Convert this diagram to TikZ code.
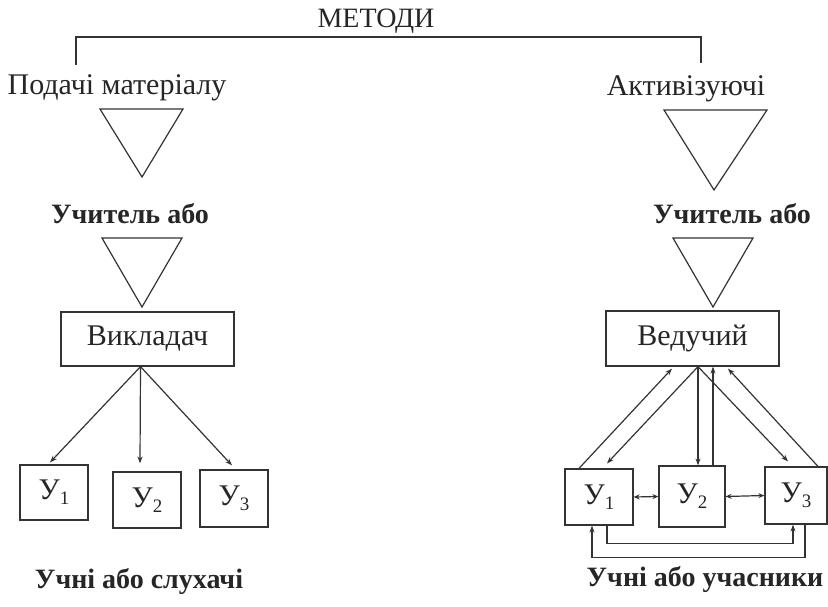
\documentclass[tikz,border=0pt]{standalone}
\usepackage{fontspec}
\setmainfont{Liberation Serif}
\usetikzlibrary{arrows.meta}
\newcommand\Us[1]{У\raisebox{-5pt}{\fontsize{19}{19}\selectfont#1}}

\begin{document}
\begin{tikzpicture}[x=1pt,y=-1pt,
    every node/.style = {font=\fontsize{30}{32}\selectfont, text=black!85},
    box/.style = {draw=black!80, line width=1.2pt, inner sep=0pt},
    line/.style = {draw=black!80, line width=1.2pt, line join=miter},
    arr/.style = {line, -{Stealth[length=7pt,width=5pt]}},
    darr/.style = {line, {Stealth[length=6pt,width=5pt]}-{Stealth[length=6pt,width=5pt]}},
    bold/.style = {font=\fontsize{28}{30}\selectfont\bfseries},
  ]
  \useasboundingbox (0,0) rectangle (828,606);
  \fill[white] (0,0) rectangle (828,606);

  \node[font=\fontsize{28}{30}\selectfont] (methods) at (376,21) {МЕТОДИ};
  \coordinate (brl) at (76,65);
  \coordinate (brr) at (701,63);
  \draw[line] (brl) -- (76,37) -- (701,37) -- (brr);

  \node (feed) at (117,88) {Подачі матеріалу};
  \node (act) at (686,89) {Активізуючі};

  % left column
  \draw[line] (100,109) -- (183,109) -- (142,177) -- cycle;
  \node[bold] (teacherL) at (130,214) {Учитель або};
  \draw[line] (102,238) -- (182,238) -- (142,307) -- cycle;
  \node[box, minimum width=173, minimum height=54] (lector) at (147.5,339) {Викладач};

  \node[box, minimum width=68, minimum height=55] (u1L) at (54,492.5) {\Us{1}};
  \node[box, minimum width=68, minimum height=56] (u2L) at (147,500) {\Us{2}};
  \node[box, minimum width=68, minimum height=57] (u3L) at (234,498.5) {\Us{3}};

  \draw[arr] ([xshift=-7]lector.south) -- ([xshift=-4,yshift=2]u1L.north);
  \draw[arr] ([xshift=-7]lector.south) -- ([xshift=-7,yshift=8]u2L.north);
  \draw[arr] ([xshift=-7]lector.south) -- ([xshift=-2,yshift=4]u3L.north);

  \node[bold] (listeners) at (139,581) {Учні або слухачі};

  % right column
  \draw[line] (664,110) -- (767,110) -- (714,190) -- cycle;
  \node[bold] (teacherR) at (732,214) {Учитель або};
  \draw[line] (673,238) -- (753,238) -- (713,307) -- cycle;
  \node[box, minimum width=173, minimum height=55] (host) at (692.5,338.5) {Ведучий};

  \node[box, minimum width=68, minimum height=56] (u1R) at (599,497) {\Us{1}};
  \node[box, minimum width=66, minimum height=61] (u2R) at (692,496.5) {\Us{2}};
  \node[box, minimum width=62, minimum height=57] (u3R) at (796,495.5) {\Us{3}};

  \draw[arr] ([xshift=-20]u1R.north) -- ([xshift=-20.5,yshift=-2]host.south);
  \draw[arr] ([xshift=5.5]host.south) -- ([xshift=8,yshift=5]u1R.north);
  \draw[arr] ([xshift=5.5]host.south) -- ([xshift=6]u2R.north);
  \draw[arr] ([xshift=21]u2R.north) -- ([xshift=20.5]host.south);
  \draw[arr] ([xshift=5.5]host.south) -- ([xshift=-8,yshift=5]u3R.north);
  \draw[arr] ([xshift=22]u3R.north) -- ([xshift=35.5,yshift=-2]host.south);

  \draw[darr] (u1R.east) -- (u2R.west);
  \draw[darr] (u2R.east) -- (u3R.west);

  \draw[arr] ([xshift=8]u1R.south) -- ++(0,18) -| ([xshift=-3]u3R.south);
  \draw[arr] ([xshift=9]u3R.south) -- ++(0,33) -| ([xshift=-7]u1R.south);

  \node[bold] (members) at (705,579) {Учні або учасники};
\end{tikzpicture}
\end{document}
